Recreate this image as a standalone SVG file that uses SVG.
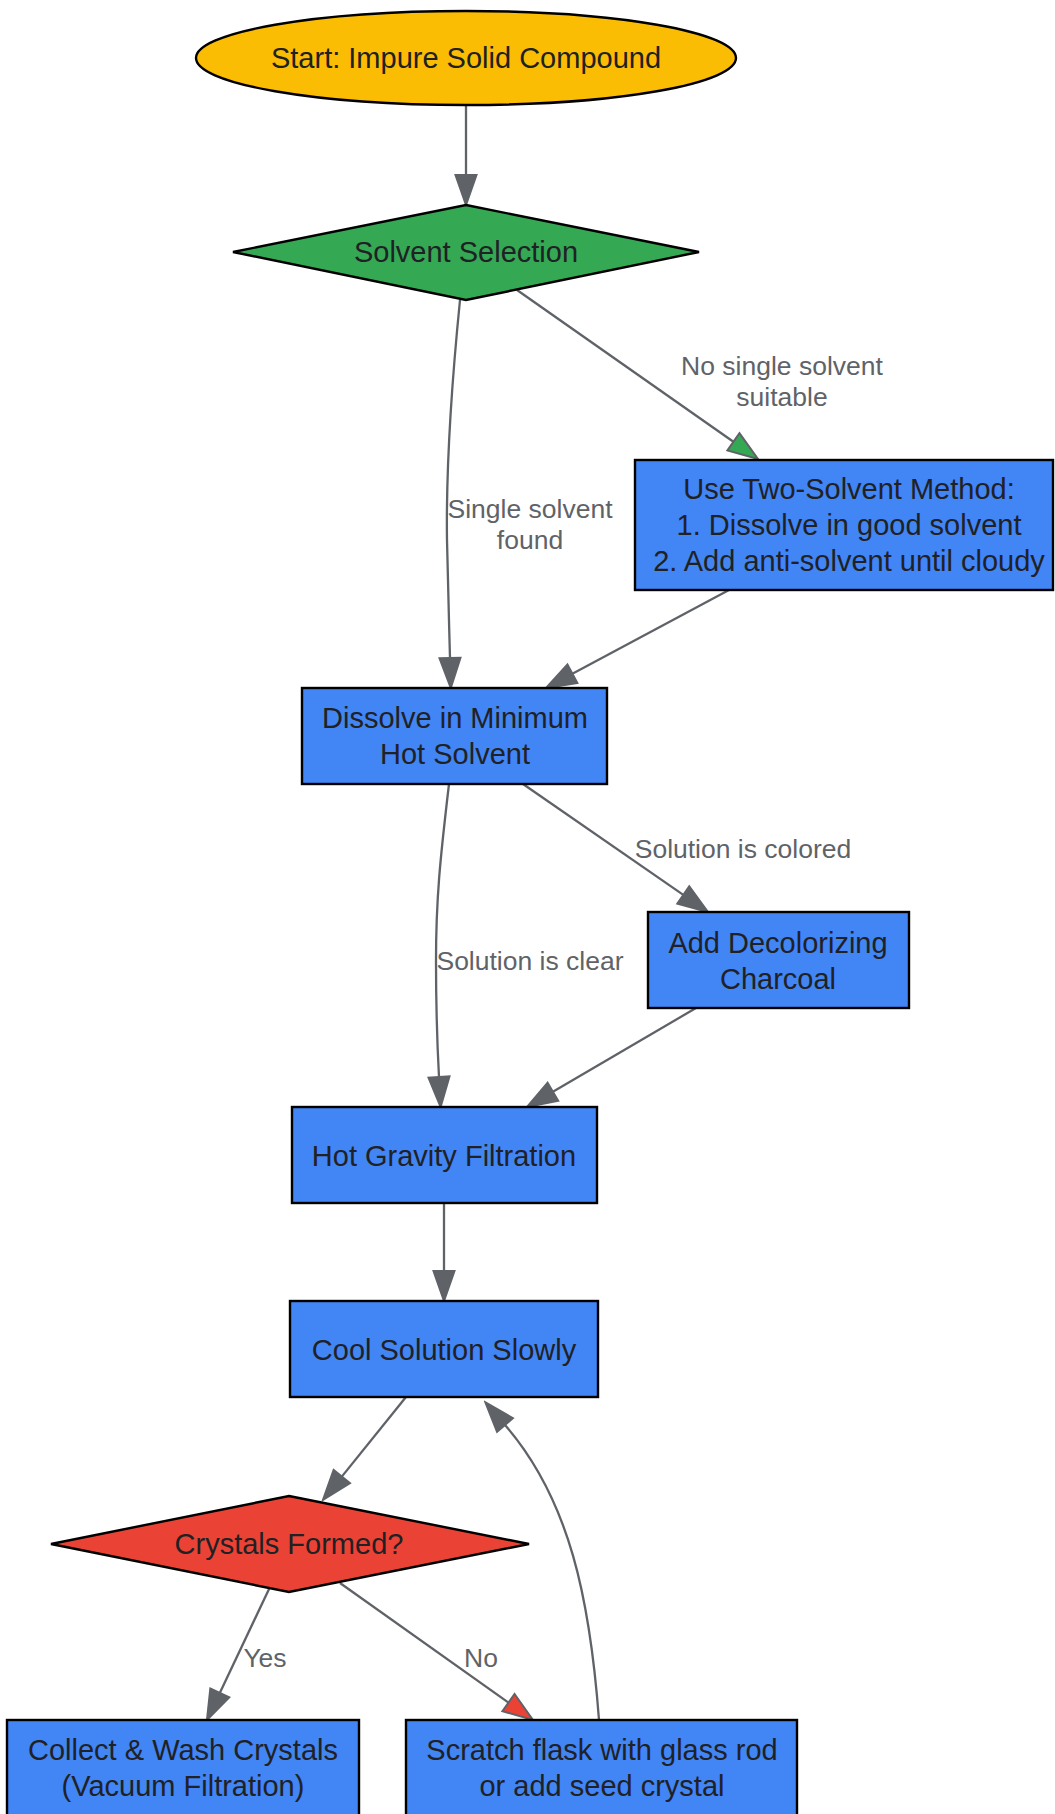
<svg xmlns="http://www.w3.org/2000/svg" width="1055" height="1814" viewBox="0 0 1055 1814">
<defs>
<style>
.n{stroke:#000;stroke-width:2.4}
.t{font-family:"Liberation Sans",Arial,sans-serif;font-size:29px;fill:#202124;text-anchor:middle;dominant-baseline:central}
.l{font-family:"Liberation Sans",Arial,sans-serif;font-size:26.5px;fill:#5f6368;text-anchor:middle;dominant-baseline:central}
.e{fill:none;stroke:#5f6368;stroke-width:2.3}
</style>
<marker id="ag" markerUnits="userSpaceOnUse" markerWidth="34" markerHeight="26" viewBox="-2 -12 34 24" refX="0" refY="0" orient="auto"><path d="M0,-10.5 L30,0 L0,10.5 Z" fill="#5f6368" stroke="#5f6368" stroke-width="2"/></marker>
<marker id="agr" markerUnits="userSpaceOnUse" markerWidth="34" markerHeight="26" viewBox="-2 -12 34 24" refX="0" refY="0" orient="auto"><path d="M0,-10.5 L30,0 L0,10.5 Z" fill="#34a853" stroke="#5f6368" stroke-width="2"/></marker>
<marker id="ar" markerUnits="userSpaceOnUse" markerWidth="34" markerHeight="26" viewBox="-2 -12 34 24" refX="0" refY="0" orient="auto"><path d="M0,-10.5 L30,0 L0,10.5 Z" fill="#ea4335" stroke="#5f6368" stroke-width="2"/></marker>
</defs>
<rect width="1055" height="1814" fill="#fff"/>
<g id="edges">
<path class="e" d="M466,105 L466,175" marker-end="url(#ag)"/>
<path class="e" d="M460,300 C450,400 446,470 447,540 C448,590 449,620 450,658" marker-end="url(#ag)"/>
<path class="e" d="M517,290 L733.4,441.8" marker-end="url(#agr)"/>
<path class="e" d="M729,590 L572.4,673.8" marker-end="url(#ag)"/>
<path class="e" d="M449,784 C440,860 436,900 436,961 C436,1010 437,1040 439,1077" marker-end="url(#ag)"/>
<path class="e" d="M523,784 L683.3,894.9" marker-end="url(#ag)"/>
<path class="e" d="M696,1008 L552.9,1091.8" marker-end="url(#ag)"/>
<path class="e" d="M444,1203 L444,1271" marker-end="url(#ag)"/>
<path class="e" d="M406,1397 L341.8,1476.6" marker-end="url(#ag)"/>
<path class="e" d="M270,1587 L219.8,1692.9" marker-end="url(#ag)"/>
<path class="e" d="M340,1583 L508.5,1702.6" marker-end="url(#ar)"/>
<path class="e" d="M599,1720 C590,1600 570,1500 505,1425" marker-end="url(#ag)"/>
<text class="l" x="530" y="509">Single solvent</text>
<text class="l" x="530" y="540">found</text>
<text class="l" x="782" y="366">No single solvent</text>
<text class="l" x="782" y="397">suitable</text>
<text class="l" x="743" y="849">Solution is colored</text>
<text class="l" x="530" y="961">Solution is clear</text>
<text class="l" x="265" y="1658">Yes</text>
<text class="l" x="481" y="1658">No</text>
</g>
<g id="start">
<ellipse class="n" cx="466" cy="58" rx="270" ry="47" fill="#fbbc04"/>
<text class="t" x="466" y="58">Start: Impure Solid Compound</text>
</g>
<g id="solvent">
<polygon class="n" points="466,205 699,252 466,300 233,252" fill="#34a853"/>
<text class="t" x="466" y="252">Solvent Selection</text>
</g>
<g id="twosolvent">
<rect class="n" x="635" y="460" width="418" height="130" fill="#4285f4"/>
<text class="t" x="849" y="489">Use Two-Solvent Method:</text>
<text class="t" x="849" y="525">1. Dissolve in good solvent</text>
<text class="t" x="849" y="561">2. Add anti-solvent until cloudy</text>
</g>
<g id="dissolve">
<rect class="n" x="302" y="688" width="305" height="96" fill="#4285f4"/>
<text class="t" x="455" y="718">Dissolve in Minimum</text>
<text class="t" x="455" y="754">Hot Solvent</text>
</g>
<g id="charcoal">
<rect class="n" x="648" y="912" width="261" height="96" fill="#4285f4"/>
<text class="t" x="778" y="943">Add Decolorizing</text>
<text class="t" x="778" y="979">Charcoal</text>
</g>
<g id="hotfilt">
<rect class="n" x="292" y="1107" width="305" height="96" fill="#4285f4"/>
<text class="t" x="444" y="1156">Hot Gravity Filtration</text>
</g>
<g id="cool">
<rect class="n" x="290" y="1301" width="308" height="96" fill="#4285f4"/>
<text class="t" x="444" y="1350">Cool Solution Slowly</text>
</g>
<g id="crystals">
<polygon class="n" points="289,1496 529,1544 289,1592 51,1544" fill="#ea4335"/>
<text class="t" x="289" y="1544">Crystals Formed?</text>
</g>
<g id="collect">
<rect class="n" x="7" y="1720" width="352" height="96" fill="#4285f4"/>
<text class="t" x="183" y="1750">Collect &amp; Wash Crystals</text>
<text class="t" x="183" y="1786">(Vacuum Filtration)</text>
</g>
<g id="scratch">
<rect class="n" x="406" y="1720" width="391" height="96" fill="#4285f4"/>
<text class="t" x="602" y="1750">Scratch flask with glass rod</text>
<text class="t" x="602" y="1786">or add seed crystal</text>
</g>
</svg>
